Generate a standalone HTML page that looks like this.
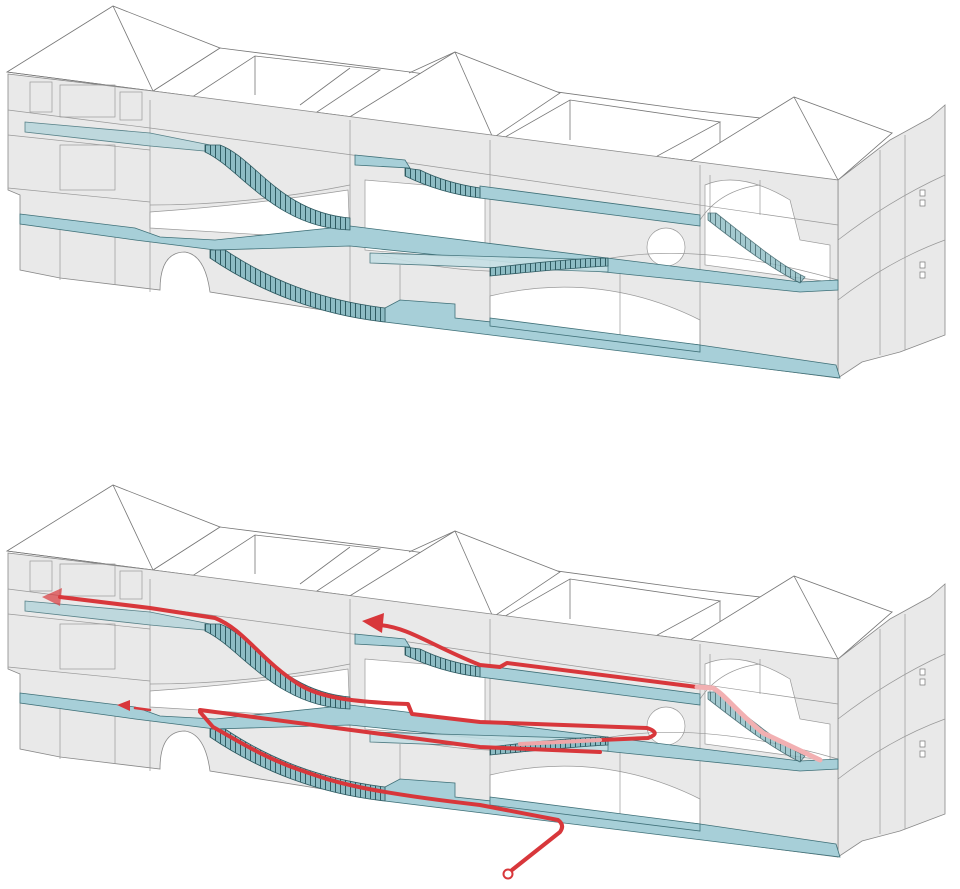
<!DOCTYPE html>
<html><head><meta charset="utf-8"><style>
html,body{margin:0;padding:0;background:#fff;}
svg{display:block;}
</style></head><body>
<svg width="960" height="889" viewBox="0 0 960 889" xmlns="http://www.w3.org/2000/svg">
<defs>
<pattern id="st" width="5" height="6" patternUnits="userSpaceOnUse">
<rect width="5" height="6" fill="#8dbcc4"/><line x1="0.5" y1="0" x2="0.5" y2="6" stroke="#2e5a61" stroke-width="1"/>
</pattern>
<g id="b">
 <!-- back structures / roofs -->
 <g fill="#fff" stroke="#777" stroke-width="0.8">
  <polygon points="220,48 410,72 690,110 892,133 838,180 153,91"/>
  <polygon points="7,72 113,6 220,48 153,91"/>
  <polyline fill="none" points="7,72 153,91"/>
  <line x1="113" y1="6" x2="153" y2="91"/>
  <polygon points="160,118 255,56 380,70 290,130" fill="#fff"/>
  <line x1="255" y1="56" x2="255" y2="95"/>
  <line x1="350" y1="68" x2="300" y2="105"/>
  <polygon points="500,140 570,100 720,122 650,160"/>
  <line x1="570" y1="100" x2="570" y2="140"/>
  <line x1="720" y1="122" x2="720" y2="150"/>
  <polygon points="348,118 455,52 560,93 493,138"/>
  <line x1="409" y1="73" x2="455" y2="52"/>
  <line x1="455" y1="52" x2="493" y2="138"/>
  <polygon points="687,163 794,97 892,133 838,180"/>
  <line x1="794" y1="97" x2="838" y2="180"/>
 </g>
 <!-- side facade -->
 <polygon points="838,180 890,140 930,118 945,105 945,335 900,352 862,362 838,378" fill="#e9e9e9" stroke="#888" stroke-width="0.8"/>
 <g stroke="#999" stroke-width="0.7" fill="none">
  <path d="M838,240 Q890,200 945,175"/><path d="M838,300 Q890,260 945,240"/>
  <line x1="880" y1="150" x2="880" y2="355"/><line x1="905" y1="135" x2="905" y2="350"/>
 </g>
 <g fill="#fff" stroke="#777" stroke-width="0.7">
  <rect x="920" y="190" width="5" height="6"/><rect x="920" y="200" width="5" height="6"/>
  <rect x="920" y="262" width="5" height="6"/><rect x="920" y="272" width="5" height="6"/>
 </g>
 <!-- front facade -->
 <path d="M8,74 L153,91 L838,180 L838,378 L385,320 L210,292 Q205,255 185,252 Q160,252 160,290 L60,278 L20,270 L20,195 L8,190 Z" fill="#e9e9e9" stroke="#888" stroke-width="0.8"/>
 <!-- openings -->
 <g fill="#fff" stroke="#999" stroke-width="0.7">
  <path d="M150,212 Q250,205 348,190 L350,240 L150,228 Z"/>
  <path d="M365,180 L485,190 L485,260 L365,250 Z"/>
  <path d="M490,296 Q600,270 700,320 L700,350 L490,325 Z"/>
  <path d="M705,185 Q740,170 790,200 L800,240 L830,245 L830,282 L705,265 Z"/>
  <circle cx="666" cy="247" r="19"/>
 </g>
 <!-- facade lines -->
 <g stroke="#999" stroke-width="0.7" fill="none">
  <path d="M8,110 L150,128 L360,156 L838,225"/>
  <path d="M8,135 L150,150"/>
  <path d="M8,188 L150,202"/>
  <path d="M150,205 Q250,205 350,185"/>
  <path d="M150,100 L150,292"/><path d="M350,120 L350,315"/><path d="M490,140 L490,330"/><path d="M700,165 L700,352"/>
  <rect x="30" y="82" width="22" height="30"/><rect x="60" y="85" width="55" height="32"/><rect x="120" y="92" width="22" height="28"/>
  <rect x="60" y="145" width="55" height="45"/>
  <path d="M60,230 L60,280"/><path d="M115,235 L115,285"/>
  <path d="M400,265 L400,320"/><path d="M620,270 L620,345"/>
  <path d="M710,175 L710,215"/><path d="M760,180 L760,215"/>
  <path d="M380,255 Q500,285 600,260 Q700,240 838,280"/>
  <path d="M700,220 Q720,190 760,185"/>
 </g>
 <!-- blue slabs -->
 <g stroke="#3f7078" stroke-width="0.8">
  <polygon points="25,122 150,133 210,145 215,152 150,146 25,132" fill="#b7d6dc" opacity="0.85"/>
  <polygon points="355,155 405,160 410,168 355,165" fill="#a7cfd8"/>
  <polygon points="480,186 700,215 700,226 480,198" fill="#a7cfd8"/>
  <path d="M20,214 L135,228 L160,237 L215,240 L350,226 L800,282 L838,280 L838,290 L800,292 L350,246 L215,250 L135,240 L20,224 Z" fill="#a7cfd8"/>
  <polygon points="370,253 608,260 608,272 370,263" fill="#c6e0e5" opacity="0.9"/>
  <path d="M385,308 L400,300 L455,304 L455,318 L700,345 L836,365 L840,378 L385,322 Z" fill="#a7cfd8"/>
  <polygon points="490,318 700,345 700,352 490,326" fill="#a7cfd8"/>
 </g>
 <!-- stairs -->
 <g stroke="#2e5a61" stroke-width="0.8" fill="url(#st)">
  <path d="M205,145 L220,145 C255,158 280,212 350,218 L350,230 C275,228 240,168 205,152 Z"/>
  <path d="M405,168 L420,170 C440,180 460,185 480,188 L480,198 C455,195 430,188 405,176 Z"/>
  <path d="M210,250 L225,250 C270,280 320,300 385,308 L385,322 C320,315 260,292 210,258 Z"/>
  <path d="M490,268 C540,262 580,258 608,258 L608,266 C570,268 530,272 490,276 Z"/>
  <path d="M708,213 L716,213 C750,240 780,265 805,277 L800,283 C770,268 740,245 708,220 Z" opacity="0.8"/>
 </g>
</g>
</defs>
<use href="#b"/>
<use href="#b" y="479"/>
<!-- red route lines -->
<g fill="none" stroke-linecap="round" stroke-linejoin="round">
 <path d="M60,597 L150,608 L215,618 C245,630 260,660 300,685 C320,697 350,702 408,704 L412,714 L480,722 L647,728 Q662,733 648,738 L600,740" stroke="#d8373b" stroke-width="4"/>
 <path d="M600,740 L520,744" stroke="#f0a6a8" stroke-width="4"/>
 <path d="M380,625 C410,628 430,645 480,665 L500,667 L507,663 L697,687" stroke="#d8373b" stroke-width="4"/>
 <path d="M697,687 L713,688 C725,695 735,710 763,733 L820,760" stroke="#f2b0b2" stroke-width="5"/>
 <path d="M135,708 L150,710" stroke="#d8373b" stroke-width="2.5"/>
 <path d="M200,710 L480,747 L600,752" stroke="#d8373b" stroke-width="4"/>
 <path d="M200,712 L213,727 C240,742 265,758 300,770 C330,780 350,790 480,805 L558,820 Q565,825 560,832 L512,870" stroke="#d8373b" stroke-width="4"/>
</g>
<g fill="#d8373b">
 <polygon points="42,597 62,588 60,606" opacity="0.7"/>
 <polygon points="362,621 384,613 382,633"/>
 <polygon points="117,705 130,700 130,711"/>
</g>
<circle cx="508" cy="874" r="4.5" fill="#fff" stroke="#d8373b" stroke-width="2"/>
</svg>
</body></html>
